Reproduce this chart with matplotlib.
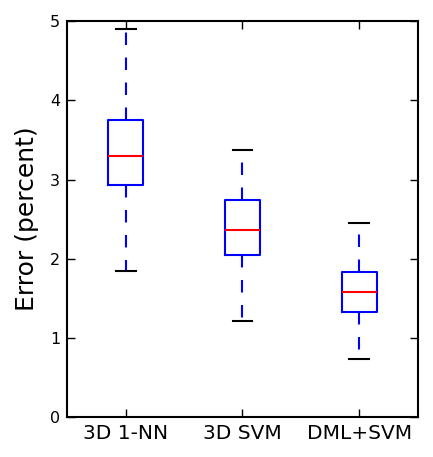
import matplotlib
matplotlib.use("Agg")
import matplotlib.pyplot as plt

labels = ["3D 1-NN", "3D SVM", "DML+SVM"]
whislo = [1.84, 1.21, 0.73]
q1 = [2.93, 2.05, 1.33]
med = [3.30, 2.36, 1.58]
q3 = [3.75, 2.74, 1.83]
whishi = [4.90, 3.37, 2.45]

stats = []
for i, lab in enumerate(labels):
    stats.append(dict(label=lab, whislo=whislo[i], q1=q1[i], med=med[i],
                      q3=q3[i], whishi=whishi[i], fliers=[]))

fig = plt.figure(figsize=(4.33, 4.57), dpi=100)
ax = fig.add_axes([0.155, 0.0875, 0.81, 0.866])

ax.bxp(stats, widths=0.3, capwidths=0.17, showfliers=False,
       boxprops=dict(color="blue", linewidth=1.5),
       whiskerprops=dict(color="blue", linewidth=1.5, linestyle="--", dashes=(6, 6)),
       capprops=dict(color="black", linewidth=1.5),
       medianprops=dict(color="red", linewidth=1.5))

ax.set_xlim(0.5, 3.5)
ax.set_ylim(0, 5)
ax.set_yticks([0, 1, 2, 3, 4, 5])
ax.tick_params(direction="in", top=True, right=True, length=6, width=1)
ax.tick_params(axis="y", labelsize=11.5, pad=5)
ax.tick_params(axis="x", labelsize=14.5, pad=5)
for s in ax.spines.values():
    s.set_linewidth(1.5)
ax.set_ylabel("Error (percent)", fontsize=18, labelpad=8)

fig.savefig("out.png", dpi=100)
